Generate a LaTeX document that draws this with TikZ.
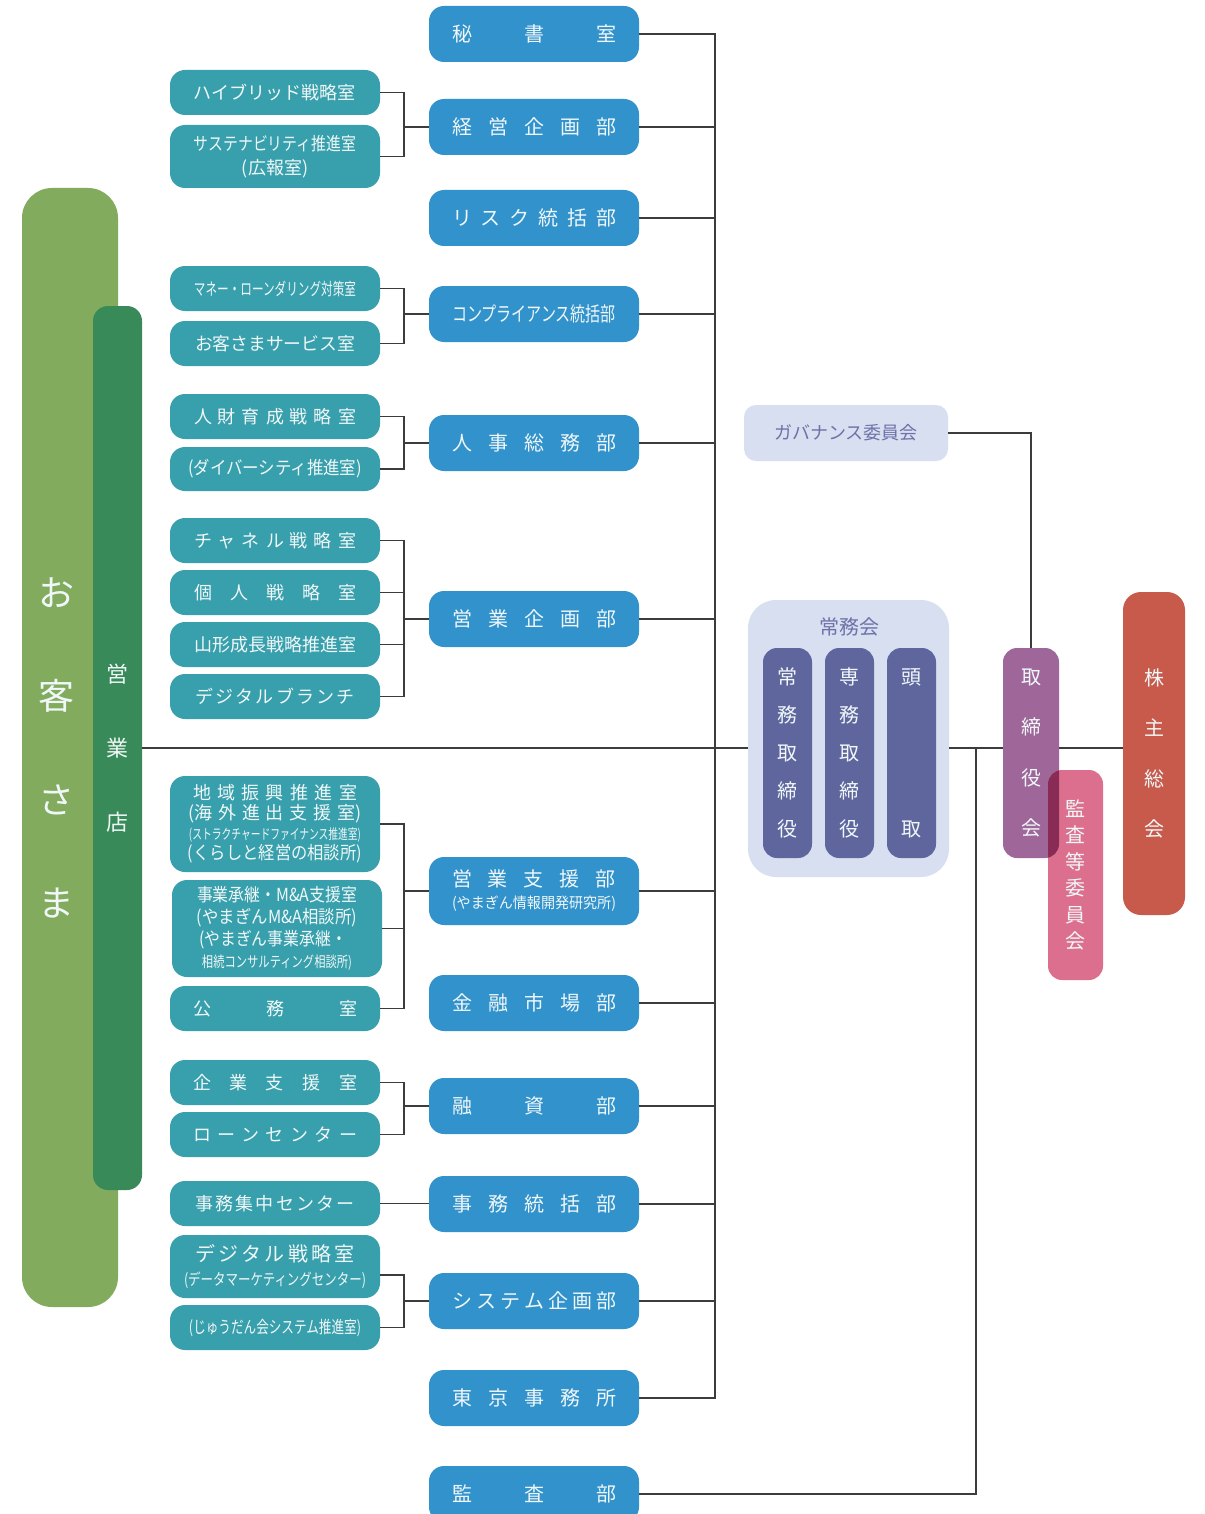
\documentclass[tikz,border=0pt]{standalone}
\usepackage{fontspec}
\usepackage{graphicx}
\setmainfont{Noto Sans CJK JP}
\usetikzlibrary{calc}
\definecolor{gBig}{HTML}{82AB5E}
\definecolor{gDark}{HTML}{388A58}
\definecolor{cTeal}{HTML}{38A0AC}
\definecolor{cBlue}{HTML}{3192CC}
\definecolor{cLav}{HTML}{D8DFF0}
\definecolor{cLavT}{HTML}{6D72A8}
\definecolor{cInd}{HTML}{5F669E}
\definecolor{cPur}{HTML}{9E6699}
\definecolor{cPink}{HTML}{DC6F8E}
\definecolor{cOver}{HTML}{882C55}
\definecolor{cRed}{HTML}{C85A4C}
\definecolor{cTxt}{HTML}{F0F7F8}
\definecolor{cLine}{HTML}{3C3C3C}
\newcommand\fitw[2]{\resizebox{#1}{\height}{#2}}
\newcommand\spr[2]{\makebox[#1][s]{#2}}
\newcommand\bx[7]{\node[#6, minimum width={(#4-#2)*0.5pt}, minimum height={(#5-#3)*0.5pt}] (#1) at ({(#2+#4)/2},{(#3+#5)/2}) {#7};}
\begin{document}
\begin{tikzpicture}[x=0.5pt,y=-0.5pt,
  base/.style={inner sep=0pt, outer sep=0pt, align=center, text=cTxt},
  tbox/.style={base, fill=cTeal, rounded corners=7.5pt, font=\fontsize{9}{10}\selectfont},
  bbox/.style={base, fill=cBlue, rounded corners=7.5pt, font=\fontsize{10}{11}\selectfont},
  vcol/.style={base, fill=cInd, rounded corners=7pt, font=\fontsize{10}{19}\selectfont},
  conn/.style={draw=cLine, line width=0.65pt}]
\useasboundingbox (0,0) rectangle (1204,1514);
\clip (0,0) rectangle (1204,1514);
\fill[white] (0,0) rectangle (1204,1514);

% customers / branches
\bx{okyakuBox}{22}{188}{118}{1307}{base, fill=gBig, rounded corners=15pt}{}
\bx{eigyoBox}{93}{306}{142}{1190}{base, fill=gDark, rounded corners=7.5pt}{}
\node[base, font=\fontsize{18}{51.8}\selectfont] (okyakuT) at (57,748) {お\\客\\さ\\ま};
\node[base, font=\fontsize{11}{37}\selectfont] (eigyoT) at (117,748) {営\\業\\店};

% teal boxes
\bx{hyb}{170}{70}{380}{115}{tbox}{\fitw{81pt}{ハイブリッド戦略室}}
\bx{sus}{170}{125}{380}{188}{tbox, font=\fontsize{9}{12}\selectfont}{\fitw{81pt}{サステナビリティ推進室}\\(広報室)}
\bx{money}{170}{266}{380}{311}{tbox, font=\fontsize{8.5}{10}\selectfont}{\fitw{81pt}{マネー・ローンダリング対策室}}
\bx{cs}{170}{321}{380}{366}{tbox}{\fitw{80pt}{お客さまサービス室}}
\bx{jinzai}{170}{394}{380}{439}{tbox}{\spr{81pt}{人\hfill 財\hfill 育\hfill 成\hfill 戦\hfill 略\hfill 室}}
\bx{div}{170}{447}{380}{491}{tbox}{\fitw{87pt}{(ダイバーシティ推進室)}}
\bx{ch}{170}{518}{380}{563}{tbox}{\spr{81pt}{チ\hfill ャ\hfill ネ\hfill ル\hfill 戦\hfill 略\hfill 室}}
\bx{kojin}{170}{570}{380}{615}{tbox}{\spr{81pt}{個\hfill 人\hfill 戦\hfill 略\hfill 室}}
\bx{yama}{170}{622}{380}{667}{tbox}{\fitw{81pt}{山形成長戦略推進室}}
\bx{dbr}{170}{674}{380}{719}{tbox}{\spr{80pt}{デ\hfill ジ\hfill タ\hfill ル\hfill ブ\hfill ラ\hfill ン\hfill チ}}
\bx{chiiki}{170}{776}{380}{872}{tbox}{\spr{82pt}{地\hfill 域\hfill 振\hfill 興\hfill 推\hfill 進\hfill 室}\\\spr{87pt}{(海\hfill 外\hfill 進\hfill 出\hfill 支\hfill 援\hfill 室)}\\{\fontsize{7}{10}\selectfont\fitw{86pt}{(ストラクチャードファイナンス推進室)}}\\\fitw{87pt}{(くらしと経営の相談所)}}
\bx{jigyo}{172}{880}{382}{977}{tbox, font=\fontsize{9}{11}\selectfont}{\fitw{80pt}{事業承継・M\&A支援室}\\\fitw{80pt}{(やまぎんM\&A相談所)}\\\makebox[82pt][l]{\hspace{2pt}\fitw{74pt}{(やまぎん事業承継・}}\\{\fontsize{7.5}{11}\selectfont\fitw{75pt}{相続コンサルティング相談所)}}}
\bx{koumu}{170}{986}{380}{1031}{tbox}{\spr{82pt}{公\hfill 務\hfill 室}}
\bx{kigyo}{170}{1060}{380}{1105}{tbox}{\spr{82pt}{企\hfill 業\hfill 支\hfill 援\hfill 室}}
\bx{loan}{170}{1112}{380}{1157}{tbox}{\spr{82pt}{ロ\hfill ー\hfill ン\hfill セ\hfill ン\hfill タ\hfill ー}}
\bx{jimu}{170}{1181}{380}{1226}{tbox}{\spr{80pt}{事\hfill 務\hfill 集\hfill 中\hfill セ\hfill ン\hfill タ\hfill ー}}
\bx{dsr}{170}{1235}{380}{1298}{tbox, font=\fontsize{10}{12}\selectfont}{\spr{80pt}{デ\hfill ジ\hfill タ\hfill ル\hfill 戦\hfill 略\hfill 室}\\{\fontsize{8}{12}\selectfont\fitw{91pt}{(データマーケティングセンター)}}}
\bx{jud}{170}{1305}{380}{1350}{tbox, font=\fontsize{8.5}{10}\selectfont}{\fitw{86pt}{(じゅうだん会システム推進室)}}

% blue boxes
\bx{hisho}{429}{6}{639}{62}{bbox}{\spr{82pt}{秘\hfill 書\hfill 室}}
\bx{keiei}{429}{99}{639}{155}{bbox}{\spr{82pt}{経\hfill 営\hfill 企\hfill 画\hfill 部}}
\bx{risk}{429}{190}{639}{246}{bbox}{\spr{82pt}{リ\hfill ス\hfill ク\hfill 統\hfill 括\hfill 部}}
\bx{comp}{429}{286}{639}{342}{bbox}{\fitw{82pt}{コンプライアンス統括部}}
\bx{jinji}{429}{415}{639}{471}{bbox}{\spr{82pt}{人\hfill 事\hfill 総\hfill 務\hfill 部}}
\bx{eikika}{429}{591}{639}{647}{bbox}{\spr{82pt}{営\hfill 業\hfill 企\hfill 画\hfill 部}}
\bx{eishi}{429}{857}{639}{925}{bbox}{\spr{82pt}{営\hfill 業\hfill 支\hfill 援\hfill 部}\\{\fontsize{7.5}{11}\selectfont\fitw{82pt}{(やまぎん情報開発研究所)}}}
\bx{kinyu}{429}{975}{639}{1031}{bbox}{\spr{82pt}{金\hfill 融\hfill 市\hfill 場\hfill 部}}
\bx{yushi}{429}{1078}{639}{1134}{bbox}{\spr{82pt}{融\hfill 資\hfill 部}}
\bx{jimutou}{429}{1176}{639}{1232}{bbox}{\spr{82pt}{事\hfill 務\hfill 統\hfill 括\hfill 部}}
\bx{sys}{429}{1273}{639}{1329}{bbox}{\spr{82pt}{シ\hfill ス\hfill テ\hfill ム\hfill 企\hfill 画\hfill 部}}
\bx{tokyo}{429}{1370}{639}{1426}{bbox}{\spr{82pt}{東\hfill 京\hfill 事\hfill 務\hfill 所}}
\bx{kansabu}{429}{1466}{639}{1522}{bbox}{\spr{82pt}{監\hfill 査\hfill 部}}

% governance
\bx{gov}{744}{405}{948}{461}{base, fill=cLav, text=cLavT, rounded corners=6pt, font=\fontsize{9}{10}\selectfont}{ガバナンス委員会}

% executive committee
\bx{jomu}{748}{600}{949}{877}{base, fill=cLav, rounded corners=14pt}{}
\node[base, text=cLavT, font=\fontsize{10}{11}\selectfont] (jomuT) at (849,627) {常務会};
\bx{c1}{763}{648}{812}{858}{vcol}{常\\務\\取\\締\\役}
\bx{c2}{825}{648}{874}{858}{vcol}{専\\務\\取\\締\\役}
\bx{c3}{887}{648}{936}{858}{vcol}{頭\\[57pt]取}

% board, audit committee, shareholders
\bx{tori}{1003}{648}{1059}{858}{base, fill=cPur, rounded corners=7pt, font=\fontsize{10}{25.3}\selectfont}{取\\締\\役\\会}
\bx{kansa}{1048}{770}{1103}{980}{base, fill=cPink, rounded corners=7pt, font=\fontsize{10}{13.2}\selectfont}{監\\査\\等\\委\\員\\会}
\begin{scope}
\clip[rounded corners=7pt] (1003,648) rectangle (1059,858);
\fill[cOver, rounded corners=7pt] (1048,770) rectangle (1103,980);
\end{scope}
\bx{kabu}{1123}{592}{1185}{915}{base, fill=cRed, rounded corners=9pt, font=\fontsize{10}{25.2}\selectfont}{株\\主\\総\\会}

% connectors
\coordinate (bk) at (404,0);
\coordinate (tr) at (715,0);
\coordinate (my) at (0,748);
\coordinate (kv) at (976,748);
\draw[conn] (hyb.east) -- (hyb.east -| bk) |- (keiei.west);
\draw[conn] (sus.east) -- (sus.east -| bk) |- (keiei.west);
\draw[conn] (money.east) -- (money.east -| bk) |- (comp.west);
\draw[conn] (cs.east) -- (cs.east -| bk) |- (comp.west);
\draw[conn] (jinzai.east) -- (jinzai.east -| bk) |- (jinji.west);
\draw[conn] (div.east) -- (div.east -| bk) |- (jinji.west);
\draw[conn] (ch.east) -- (ch.east -| bk) |- (eikika.west);
\draw[conn] (kojin.east) -- (kojin.east -| bk) |- (eikika.west);
\draw[conn] (yama.east) -- (yama.east -| bk) |- (eikika.west);
\draw[conn] (dbr.east) -- (dbr.east -| bk) |- (eikika.west);
\draw[conn] (chiiki.east) -- (chiiki.east -| bk) |- (eishi.west);
\draw[conn] (jigyo.east) -- (jigyo.east -| bk) |- (eishi.west);
\draw[conn] (koumu.east) -- (koumu.east -| bk) |- (eishi.west);
\draw[conn] (kigyo.east) -- (kigyo.east -| bk) |- (yushi.west);
\draw[conn] (loan.east) -- (loan.east -| bk) |- (yushi.west);
\draw[conn] (jimu.east) -- (jimu.east -| jimutou.west);
\draw[conn] ([yshift=-4.25pt]dsr.east) -- ([yshift=-4.25pt]dsr.east -| bk) |- (sys.west);
\draw[conn] (jud.east) -- (jud.east -| bk) |- (sys.west);

\draw[conn] (hisho.east) -- (hisho.east -| tr) -- (tokyo.east -| tr) -- (tokyo.east);
\foreach \n in {keiei,risk,comp,jinji,eikika,eishi,kinyu,yushi,jimutou,sys}
  \draw[conn] (\n.east) -- (\n.east -| tr);

\draw[conn] (eigyoBox.east |- my) -- (jomu.west |- my);
\draw[conn] (jomu.east |- my) -- (tori.west |- my);
\draw[conn] (tori.east |- my) -- (kabu.west |- my);
\draw[conn] (kansabu.east) -| (kv);
\draw[conn] (gov.east) -| (tori.north);
\end{tikzpicture}
\end{document}
